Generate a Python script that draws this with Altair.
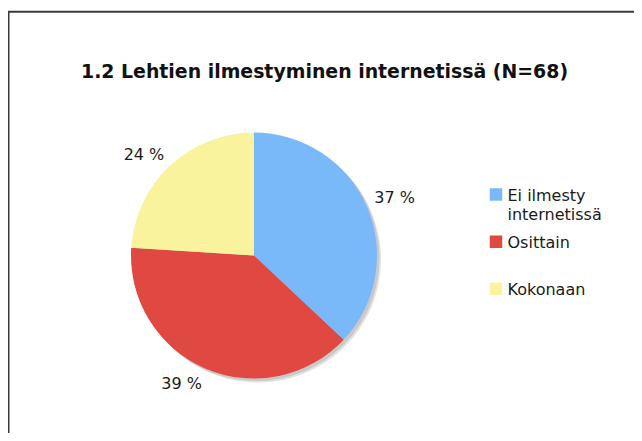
import altair as alt
import pandas as pd

TITLE = "1.2 Lehtien ilmestyminen internetissä (N=68)"
categories = ["Ei ilmesty\ninternetissä", "Osittain", "Kokonaan"]
values = [37, 39, 24]
labels = ["37 %", "39 %", "24 %"]
colors = ["#7ab9f9", "#e04842", "#f9f39d"]

df = pd.DataFrame({
    "cat": categories,
    "value": values,
    "label": labels,
    "idx": list(range(len(categories))),
})

CX, CY, R = 246, 247.5, 123
FONT = "DejaVu Sans"

theta = alt.Theta("value:Q", stack=True)
order = alt.Order("idx:Q")
color = alt.Color("cat:N", scale=alt.Scale(domain=categories, range=colors), legend=None)

base = alt.Chart(df)

border = alt.Chart(pd.DataFrame({"a": [0]})).mark_rect(
    fill=None, stroke="#3a3a3a", strokeWidth=2
).encode(x=alt.value(0.5), y=alt.value(3.8), x2=alt.value(800), y2=alt.value(800))

shadow1 = base.mark_arc(radius=R, x=CX + 4, y=CY + 4, color="#e2e2e2").encode(theta=theta, order=order)
shadow2 = base.mark_arc(radius=R, x=CX + 2.5, y=CY + 2.5, color="#c9c9c9").encode(theta=theta, order=order)

pie = base.mark_arc(radius=R, x=CX, y=CY).encode(theta=theta, order=order, color=color)

MID = "(PI*(datum.value_start+datum.value_end)/datum.total)"
pct = base.transform_joinaggregate(total="sum(value)").mark_text(
    radius=131, x=CX, y=CY, font=FONT, fontSize=16, color="#1a1a1a",
    align=alt.expr(f"sin({MID}) >= 0 ? 'left' : 'right'"),
    baseline=alt.expr(f"cos({MID}) > 0.3 ? 'alphabetic' : (cos({MID}) < -0.3 ? 'top' : 'middle')"),
).encode(theta=theta, order=order, text="label:N")

ypos = alt.Y("cat:N", scale=alt.Scale(type="point", domain=categories, range=[186.5, 281], padding=0), axis=None)

leg_sq = base.mark_square(size=156, x=488, opacity=1, filled=True).encode(y=ypos, color=color)
leg_txt = base.mark_text(
    x=499.5, align="left", baseline="alphabetic", dy=6, lineBreak="\n", lineHeight=19.5,
    font=FONT, fontSize=16, color="#1a1a1a"
).encode(y=ypos, text="cat:N")

title = alt.Chart(pd.DataFrame({"t": [TITLE]})).mark_text(
    font=FONT, fontSize=18.9, fontWeight="bold", color="#111111", align="center", baseline="alphabetic"
).encode(x=alt.value(316.5), y=alt.value(69.7), text="t:N")

chart = alt.layer(border, shadow1, shadow2, pie, pct, leg_sq, leg_txt, title).properties(
    width=626, height=425, autosize=alt.AutoSizeParams(type="none"), padding=0
).configure_view(stroke=None)

chart.save("out.html", embed_options={"renderer": "svg", "actions": False})
